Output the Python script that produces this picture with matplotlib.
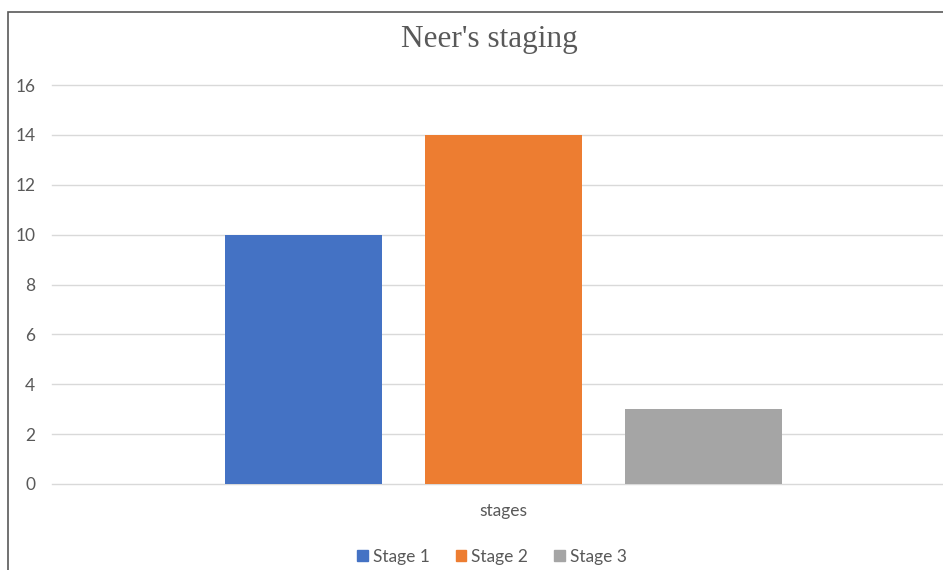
import matplotlib.pyplot as plt
import matplotlib.patches as mpatches
import numpy as np

# chart data
category = 'stages'
series_names = ['Stage 1', 'Stage 2', 'Stage 3']
series_values = [10, 14, 3]
series_colors = ['#4472C4', '#ED7D31', '#A5A5A5']
y_ticks = [0, 2, 4, 6, 8, 10, 12, 14, 16]

W, H = 943, 570
fig = plt.figure(figsize=(W / 100, H / 100), dpi=100)

# outer chart border (Excel-like frame, cut off on the right and bottom)
frame = mpatches.Rectangle((8 / W, -0.05), 1.0, 1 - 12 / H + 0.05, transform=fig.transFigure,
                           fill=False, edgecolor='#595959', linewidth=1.2)
fig.add_artist(frame)

ax = fig.add_axes([52 / W, 1 - 484 / H, 902 / W, 399 / H])

step = 200 / 902
width = 157 / 902
offsets = (np.arange(len(series_values)) - (len(series_values) - 1) / 2) * step
for off, val, col, name in zip(offsets, series_values, series_colors, series_names):
    ax.bar(0 + off, val, width=width, color=col, label=name, zorder=3)

ax.set_xlim(-0.5, 0.5)
ax.set_ylim(0, 16)
ax.set_yticks(y_ticks)
ax.set_xticks([0])
ax.set_xticklabels([category])
ax.yaxis.grid(True, color='#D9D9D9', linewidth=1)
for gl in ax.get_ygridlines():
    gl.set_clip_on(False)
ax.set_axisbelow(True)
for s in ax.spines.values():
    s.set_visible(False)
ax.tick_params(axis='both', length=0, labelsize=12.5, labelcolor='#595959')
ax.tick_params(axis='y', pad=12)
ax.tick_params(axis='x', pad=14)
for lab in ax.get_xticklabels() + ax.get_yticklabels():
    lab.set_family('Lato')

fig.text(489 / W, 1 - 40 / H, "Neer's staging", ha='center', va='center',
         family='Liberation Serif', fontsize=22.5, color='#595959')

handles = [mpatches.Patch(color=c, label=n) for c, n in zip(series_colors, series_names)]
fig.legend(handles=handles, loc='center', bbox_to_anchor=(492 / W, 1 - 557 / H), ncol=3,
           frameon=False, prop={'family': 'Lato', 'size': 12.5}, labelcolor='#595959',
           handlelength=0.6, handleheight=0.6, handletextpad=0.3, columnspacing=1.5)

fig.savefig('out.png', dpi=100)
